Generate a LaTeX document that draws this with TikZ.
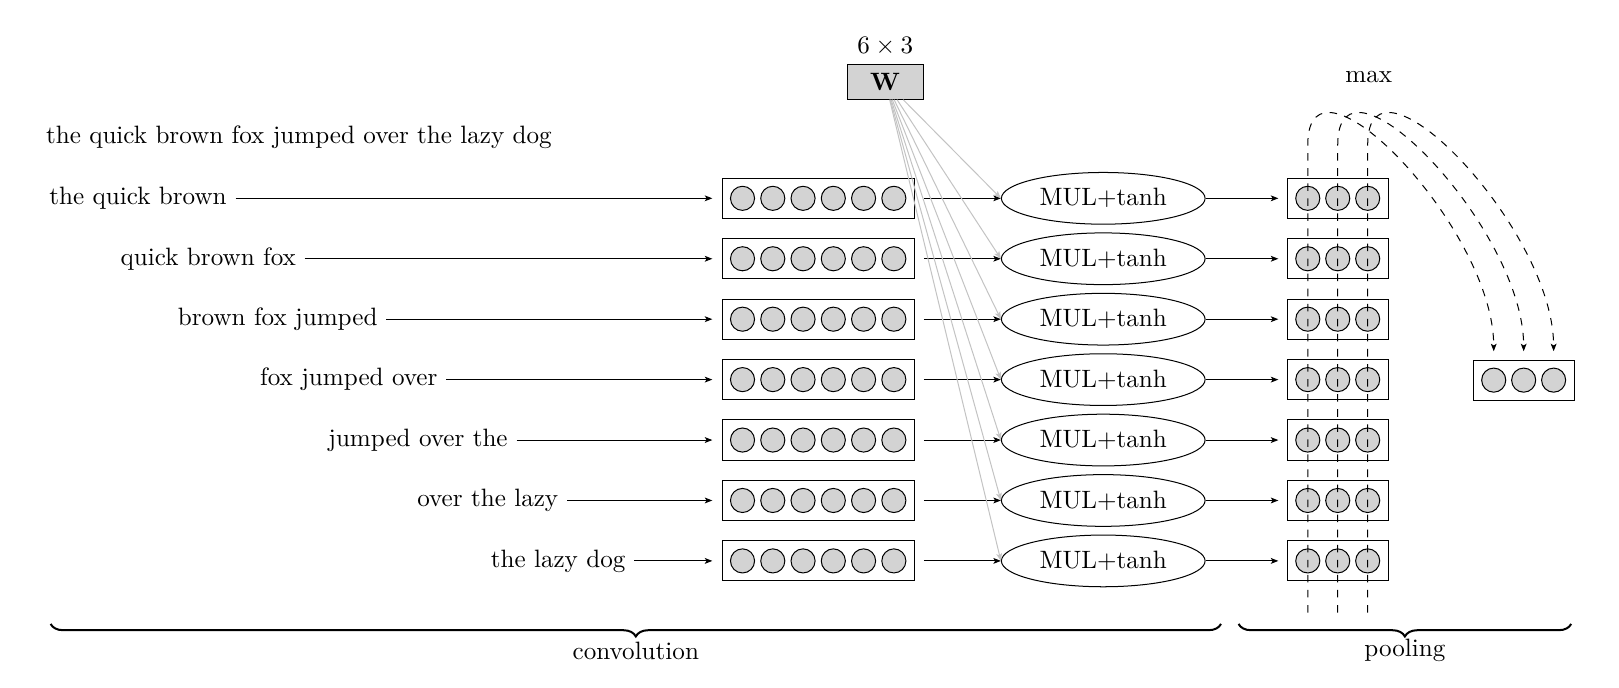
\documentclass[tikz,border=0pt]{standalone}
\usetikzlibrary{shapes.geometric}
\usetikzlibrary{decorations.pathreplacing}
\usetikzlibrary{arrows.meta}
\definecolor{cellgray}{RGB}{211,211,211}
\definecolor{wiregray}{RGB}{195,195,195}

\begin{document}
\begin{tikzpicture}[x=0.4115pt,y=-0.4115pt,>={Stealth[length=3pt,width=2.3pt,inset=0.7pt]},
  cell/.style={circle, draw, fill=cellgray, minimum size=9.6pt, inner sep=0pt},
  embbox/.style={rectangle, draw, minimum width=76.5pt, minimum height=16pt, inner sep=0pt},
  poolbox/.style={rectangle, draw, minimum width=40.3pt, minimum height=16pt, inner sep=0pt},
  mulnode/.style={ellipse, draw, minimum width=80.7pt, minimum height=20.6pt},
  wbox/.style={rectangle, draw, fill=cellgray, minimum width=30.5pt, minimum height=14pt, inner sep=0pt}]

  \useasboundingbox (0,0) rectangle (1567.3,666);

  % Sentence
  \node[anchor=west] (sent) at (36,133) {the quick brown fox jumped over the lazy dog};

  % Weight matrix
  \node[wbox] (W) at (857,79) {$\mathbf{W}$};
  \node (Wdim) at (857,45) {$6\times 3$};

  % Trigram rows
  \foreach \i/\txt/\xe in {0/the quick brown/228, 1/quick brown fox/295,
      2/brown fox jumped/374, 3/fox jumped over/432, 4/jumped over the/500,
      5/over the lazy/549, 6/the lazy dog/614} {
    \pgfmathsetmacro{\yy}{192+58.5*\i}
    \node[anchor=east] (lab\i) at (\xe,\yy) {\txt};
    \node[embbox] (emb\i) at (792,\yy) {};
    \foreach \k in {0,...,5}
      \node[cell] (e\i\k) at (718.8+29.3*\k,\yy) {};
    \node[mulnode] (mul\i) at (1068,\yy) {MUL+tanh};
    \node[poolbox] (pool\i) at (1295,\yy) {};
    \foreach \k in {0,1,2}
      \node[cell] (p\i\k) at (1266+29*\k,\yy) {};
    \draw[->, shorten >=3.7pt] (lab\i) -- (emb\i);
    \draw[->, shorten <=3.7pt] (emb\i) -- (mul\i);
    \draw[->, shorten >=3.3pt] (mul\i) -- (pool\i);
    \draw[->, wiregray] (W) -- (mul\i.west);
  }

  % Max pooling
  \node (maxlab) at (1325,75) {max};
  \node[poolbox] (out) at (1475,368) {};
  \foreach \k in {0,1,2}
    \node[cell] (o\k) at (1446+29*\k,368) {};
  \foreach \k in {0,1,2} {
    \pgfmathsetmacro{\xa}{1266+29*\k}
    \pgfmathsetmacro{\xb}{1446+29*\k}
    \coordinate (d\k) at (\xa,593);
    \draw[dashed, ->, shorten >=3.3pt] (d\k) -- (\xa,140)
      .. controls (\xa,35) and (\xb,220) .. (o\k |- out.north);
  }

  % Braces
  \draw[thick, decorate, decoration={brace, mirror, amplitude=5pt}] (49,604) -- (1182,604);
  \node (conv) at (615.5,630) {convolution};
  \draw[thick, decorate, decoration={brace, mirror, amplitude=5pt}] (1199,604) -- (1521,604);
  \node (pooling) at (1360,630) {pooling};

\end{tikzpicture}
\end{document}
